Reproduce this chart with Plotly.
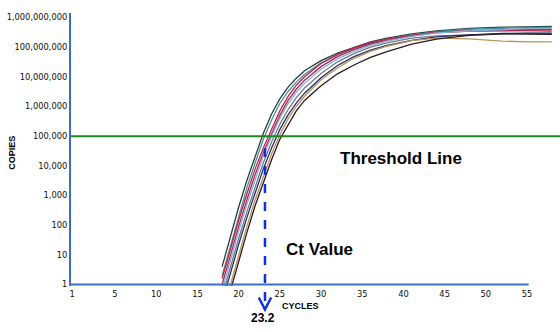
import math
import plotly.graph_objects as go

# ---------------- data ----------------
cycles = [18, 19, 20, 21, 22, 23, 24, 25, 26, 27, 28, 30, 32, 34, 36, 38, 41, 44, 48, 52, 55, 58]

copies_a = [4, 40, 400, 3.2e3, 2.2e4, 1.26e5, 5.6e5, 1.8e6, 4.5e6, 8.9e6, 1.6e7, 3.5e7, 6.3e7, 1.0e8, 1.5e8, 2.0e8, 2.8e8, 3.5e8, 4.3e8, 4.7e8, 4.9e8, 5.0e8]
copies_b = [2, 20, 200, 1.8e3, 1.26e4, 7.9e4, 3.5e5, 1.26e6, 3.2e6, 6.6e6, 1.2e7, 2.95e7, 5.6e7, 9.1e7, 1.35e8, 1.86e8, 2.6e8, 3.3e8, 4.0e8, 4.4e8, 4.6e8, 4.6e8]
copies_c = [1.6, 16, 141, 1.12e3, 7.9e3, 4.0e4, 1.6e5, 7.1e5, 2.2e6, 5.2e6, 1.0e7, 2.8e7, 5.6e7, 9.5e7, 1.4e8, 1.86e8, 2.5e8, 3.2e8, 3.5e8, 3.6e8, 3.6e8, 3.5e8]
copies_d = [1, 10, 89, 710, 5.0e3, 2.8e4, 1.26e5, 5.0e5, 1.6e6, 3.8e6, 7.6e6, 2.2e7, 4.8e7, 8.3e7, 1.26e8, 1.7e8, 2.4e8, 3.0e8, 3.5e8, 3.8e8, 4.0e8, 4.0e8]
copies_e = [0.63, 6.3, 63, 500, 3.5e3, 2.2e4, 1.0e5, 4.0e5, 1.26e6, 3.0e6, 6.0e6, 1.8e7, 4.0e7, 7.2e7, 1.15e8, 1.6e8, 2.3e8, 3.0e8, 3.5e8, 4.0e8, 4.2e8, 4.3e8]
copies_f = [0.4, 4, 35, 280, 2.0e3, 1.26e4, 6.3e4, 2.5e5, 7.9e5, 2.0e6, 4.2e6, 1.3e7, 3.2e7, 6.0e7, 1.0e8, 1.4e8, 2.0e8, 2.4e8, 2.6e8, 2.8e8, 2.9e8, 2.9e8]
copies_g = [0.25, 2.5, 22, 180, 1.26e3, 7.9e3, 4.0e4, 1.66e5, 5.2e5, 1.3e6, 2.8e6, 9.3e6, 2.4e7, 4.8e7, 7.9e7, 1.15e8, 1.7e8, 2.2e8, 2.6e8, 2.9e8, 2.95e8, 2.95e8]
copies_h = [0.1, 1, 10, 89, 710, 4.5e3, 2.5e4, 1.12e5, 3.8e5, 1.0e6, 2.2e6, 7.9e6, 2.0e7, 4.2e7, 7.2e7, 1.07e8, 1.66e8, 2.0e8, 1.9e8, 1.6e8, 1.5e8, 1.5e8]
copies_i = [0.063, 0.63, 6.3, 56, 450, 2.8e3, 1.6e4, 7.9e4, 2.5e5, 7.1e5, 1.6e6, 5.0e6, 1.26e7, 2.5e7, 4.5e7, 7.1e7, 1.26e8, 1.86e8, 2.5e8, 2.8e8, 2.75e8, 2.7e8]

threshold_copies = 1e5
ct_value = 23.2
ct_copies = 4e4          # where the Ct marker leaves the amplification curves
axis_end_cycle = 55.2    # drawn x axis line ends here

x_tick_vals = [-0.2, 5, 10, 15, 20, 25, 30, 35, 40, 45, 50, 55]
x_tick_text = ["1", "5", "10", "15", "20", "25", "30", "35", "40", "45", "50", "55"]
y_tick_vals = [1, 10, 100, 1e3, 1e4, 1e5, 1e6, 1e7, 1e8, 1e9]
y_tick_text = ["1", "10", "100", "1,000", "10,000", "100,000", "1,000,000",
               "10,000,000", "100,000,000", "1,000,000,000"]

# ---------------- styles ----------------
curve_series = [
    (copies_a, "#26423a"),
    (copies_b, "#3f93a3"),
    (copies_c, "#c8213f"),
    (copies_d, "#9a2f6c"),
    (copies_e, "#86aed3"),
    (copies_f, "#737a86"),
    (copies_g, "#22306e"),
    (copies_h, "#b9945c"),
    (copies_i, "#2b1b1e"),
]
AXIS_BLUE = "#3b6fc4"
GREEN = "#1b8a1b"
CT_BLUE = "#1430dc"

X_RANGE = [-0.34, 59.0]
Y_RANGE = [-0.05, 9.15]

fig = go.Figure()

for ys, col in curve_series:
    fig.add_trace(go.Scatter(x=cycles, y=ys, mode="lines",
                             line=dict(color=col, width=1.3), hoverinfo="skip"))

# drawn x axis line (stops at cycle 55)
fig.add_trace(go.Scatter(x=[X_RANGE[0], axis_end_cycle], y=[1, 1], mode="lines",
                         line=dict(color=AXIS_BLUE, width=2), hoverinfo="skip"))

# threshold line
fig.add_trace(go.Scatter(x=X_RANGE, y=[threshold_copies, threshold_copies], mode="lines",
                         line=dict(color=GREEN, width=2), hoverinfo="skip"))


def paper_y(copies):
    return (math.log10(copies) - Y_RANGE[0]) / (Y_RANGE[1] - Y_RANGE[0])


# Ct dashed marker with open arrow head below the axis
fig.add_shape(type="line", xref="x", yref="paper",
              x0=ct_value, x1=ct_value, y0=paper_y(ct_copies), y1=-0.083,
              line=dict(color=CT_BLUE, width=2.5, dash="dash"))
fig.add_shape(type="path", xref="x", yref="paper",
              path=f"M {ct_value-0.75},-0.042 L {ct_value},-0.086 L {ct_value+0.75},-0.042",
              line=dict(color=CT_BLUE, width=2.5))

bold = dict(family="Arial, Liberation Sans, sans-serif", color="black")

fig.add_annotation(x=39.7, y=4.24, xref="x", yref="y", text="<b>Threshold Line</b>",
                   showarrow=False, font=dict(size=17, **bold))
fig.add_annotation(x=29.76, y=1.19, xref="x", yref="y", text="<b>Ct Value</b>",
                   showarrow=False, font=dict(size=17, **bold))
fig.add_annotation(x=ct_value - 0.2, y=-0.15, xref="x", yref="paper", text="<b>23.2</b>",
                   showarrow=False, font=dict(size=12, **bold))
fig.add_annotation(x=27.45, y=-0.1, xref="x", yref="paper", text="<b>CYCLES</b>",
                   showarrow=False, font=dict(size=9, **bold))
fig.add_annotation(x=-0.135, y=4.44, xref="paper", yref="y", text="<b>COPIES</b>",
                   showarrow=False, textangle=-90, font=dict(size=9, **bold))

tickfont = dict(family="DejaVu Sans, sans-serif", size=8.3, color="#111111")

fig.update_layout(
    width=560, height=332,
    margin=dict(l=71, r=0, t=13, b=46),
    paper_bgcolor="white", plot_bgcolor="white",
    showlegend=False,
    xaxis=dict(range=X_RANGE, showgrid=False, zeroline=False, showline=False,
               tickmode="array", tickvals=x_tick_vals, ticktext=x_tick_text,
               ticks="", tickfont=tickfont, ticklabelstandoff=2),
    yaxis=dict(type="log", range=Y_RANGE, showgrid=False, zeroline=False,
               showline=True, linecolor=AXIS_BLUE, linewidth=2,
               tickmode="array", tickvals=y_tick_vals, ticktext=y_tick_text,
               ticks="", tickfont=tickfont),
)

fig.write_html("out.html")
